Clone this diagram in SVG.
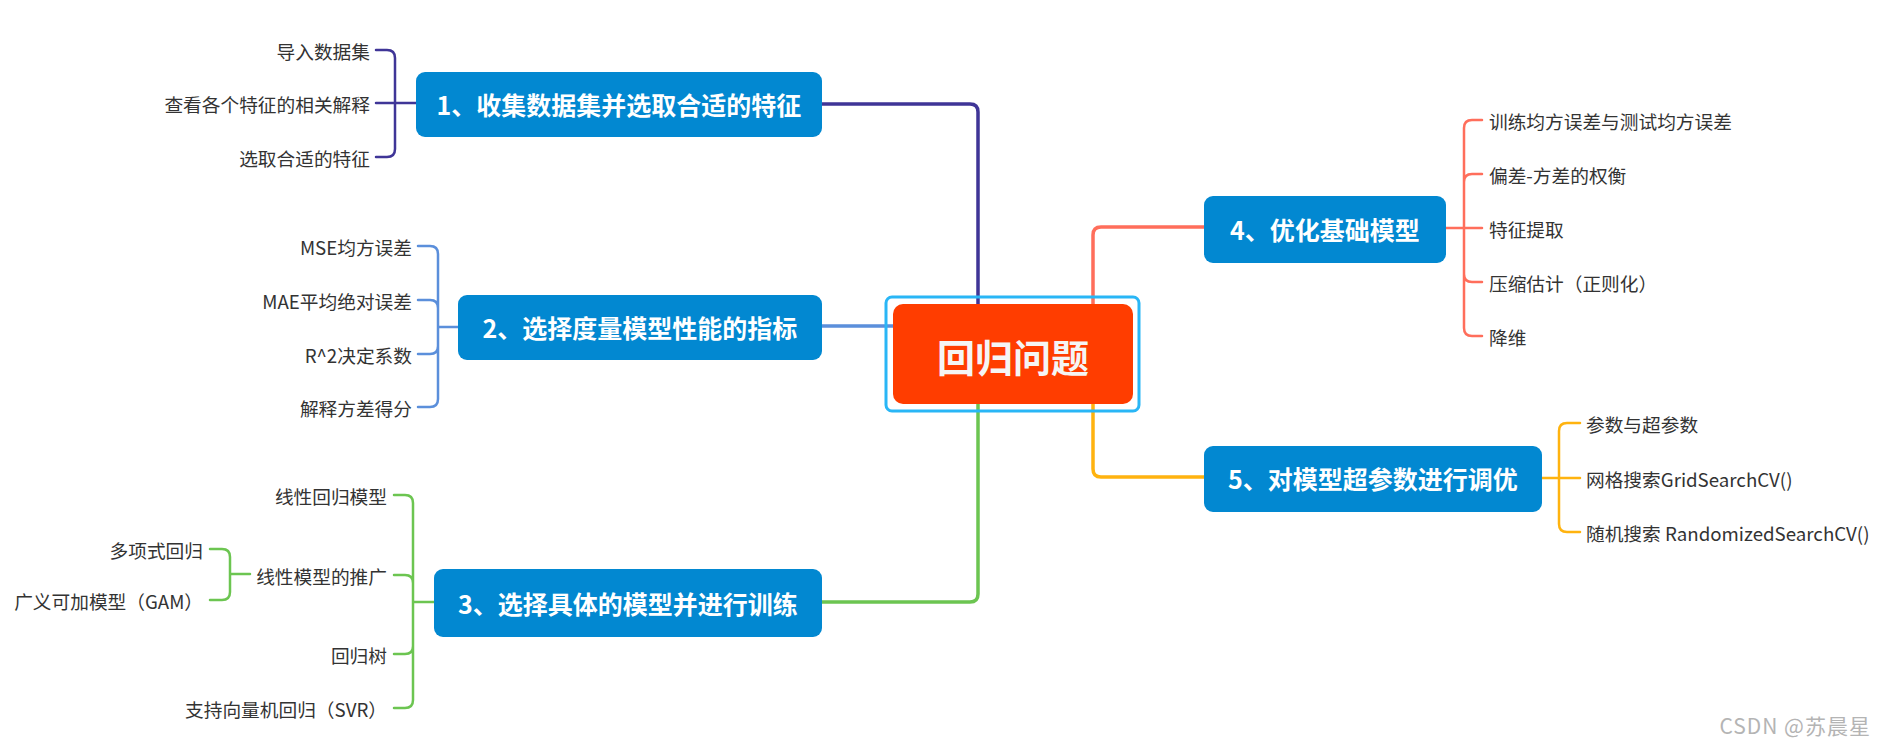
<svg xmlns="http://www.w3.org/2000/svg" width="1886" height="743" viewBox="0 0 1886 743">
<style>
.t{font-family:"Noto Sans CJK SC","Noto Sans",sans-serif;font-size:18.7px;fill:#333;dominant-baseline:central}
.n{font-family:"Noto Sans CJK SC","Noto Sans",sans-serif;font-size:25px;font-weight:bold;fill:#fff;dominant-baseline:central;text-anchor:middle}
.e{text-anchor:end}
.box{fill:#0288D1}
.c{fill:none;stroke-linecap:round;stroke-linejoin:round}
.main{stroke-width:3.5}
.sub{stroke-width:2.5}
.p{stroke:#3F3597}.b{stroke:#5B8FDB}.g{stroke:#6CC551}.r{stroke:#FF6E5B}.y{stroke:#FFB30F}
</style>
<rect width="1886" height="743" fill="#fff"/>
<g id="connectors">
<path class="c main p" d="M822,104 H970 Q978,104 978,112 V350"/>
<path class="c main b" d="M822,326 H893"/>
<path class="c main g" d="M822,602 H970 Q978,602 978,594 V360"/>
<path class="c main r" d="M1093,350 V235 Q1093,227 1101,227 H1204"/>
<path class="c main y" d="M1093,360 V469 Q1093,477 1101,477 H1204"/>
<path class="c sub p" d="M376,50 H387 Q395,50 395,58 V149 Q395,157 387,157 H376 M376,103 H416"/>
<path class="c sub b" d="M418,246 H430 Q438,246 438,254 V399 Q438,407 430,407 H418 M418,300 H430 Q438,300 438,308 M418,354 H430 Q438,354 438,346 M438,327 H458"/>
<path class="c sub g" d="M394,495 H405 Q413,495 413,503 V700 Q413,708 405,708 H394 M394,575 H405 Q413,575 413,583 M394,654 H405 Q413,654 413,646 M413,602 H434"/>
<path class="c sub g" d="M210,549 H222 Q230,549 230,557 V592 Q230,600 222,600 H210 M230,574 H250"/>
<path class="c sub r" d="M1482,120 H1472 Q1464,120 1464,128 V328 Q1464,336 1472,336 H1482 M1482,174 H1472 Q1464,174 1464,182 M1482,282 H1472 Q1464,282 1464,274 M1446,228 H1482"/>
<path class="c sub y" d="M1580,423 H1567 Q1559,423 1559,431 V524 Q1559,532 1567,532 H1580 M1542,478 H1580"/>
</g>
<g id="root">
<rect x="886" y="297" width="253" height="114" rx="6" fill="none" stroke="#29B6F6" stroke-width="3"/>
<rect x="893" y="304" width="240" height="100" rx="10" fill="#FF3D00"/>
<text x="1013" y="355" font-family="Noto Sans CJK SC,sans-serif" font-size="38" font-weight="bold" fill="#F5F5F5" text-anchor="middle" dominant-baseline="central">回归问题</text>
</g>
<g id="n1">
<rect class="box" x="416" y="72" width="406" height="65" rx="9"/>
<text class="n" x="619" y="104">1、收集数据集并选取合适的特征</text>
<text class="t e" x="370" y="50">导入数据集</text>
<text class="t e" x="370" y="103">查看各个特征的相关解释</text>
<text class="t e" x="370" y="157">选取合适的特征</text>
</g>
<g id="n2">
<rect class="box" x="458" y="295" width="364" height="65" rx="9"/>
<text class="n" x="640" y="327">2、选择度量模型性能的指标</text>
<text class="t e" x="412" y="246">MSE均方误差</text>
<text class="t e" x="412" y="300">MAE平均绝对误差</text>
<text class="t e" x="412" y="354">R^2决定系数</text>
<text class="t e" x="412" y="407">解释方差得分</text>
</g>
<g id="n3">
<rect class="box" x="434" y="569" width="388" height="68" rx="9"/>
<text class="n" x="628" y="603">3、选择具体的模型并进行训练</text>
<text class="t e" x="387" y="495">线性回归模型</text>
<text class="t e" x="387" y="575">线性模型的推广</text>
<text class="t e" x="387" y="654">回归树</text>
<text class="t e" x="387" y="708">支持向量机回归（SVR）</text>
<text class="t e" x="203" y="549">多项式回归</text>
<text class="t e" x="203" y="600">广义可加模型（GAM）</text>
</g>
<g id="n4">
<rect class="box" x="1204" y="196" width="242" height="67" rx="9"/>
<text class="n" x="1325" y="229">4、优化基础模型</text>
<text class="t" x="1489" y="120">训练均方误差与测试均方误差</text>
<text class="t" x="1489" y="174">偏差-方差的权衡</text>
<text class="t" x="1489" y="228">特征提取</text>
<text class="t" x="1489" y="282">压缩估计（正则化）</text>
<text class="t" x="1489" y="336">降维</text>
</g>
<g id="n5">
<rect class="box" x="1204" y="446" width="338" height="66" rx="9"/>
<text class="n" x="1373" y="478">5、对模型超参数进行调优</text>
<text class="t" x="1586" y="423">参数与超参数</text>
<text class="t" x="1586" y="478">网格搜索GridSearchCV()</text>
<text class="t" x="1586" y="532">随机搜索 RandomizedSearchCV()</text>
</g>
<text x="1871" y="725" font-family="Noto Sans CJK SC,sans-serif" font-size="21" letter-spacing="1" fill="#B4B4B4" text-anchor="end" dominant-baseline="central">CSDN @苏晨星</text>
</svg>
